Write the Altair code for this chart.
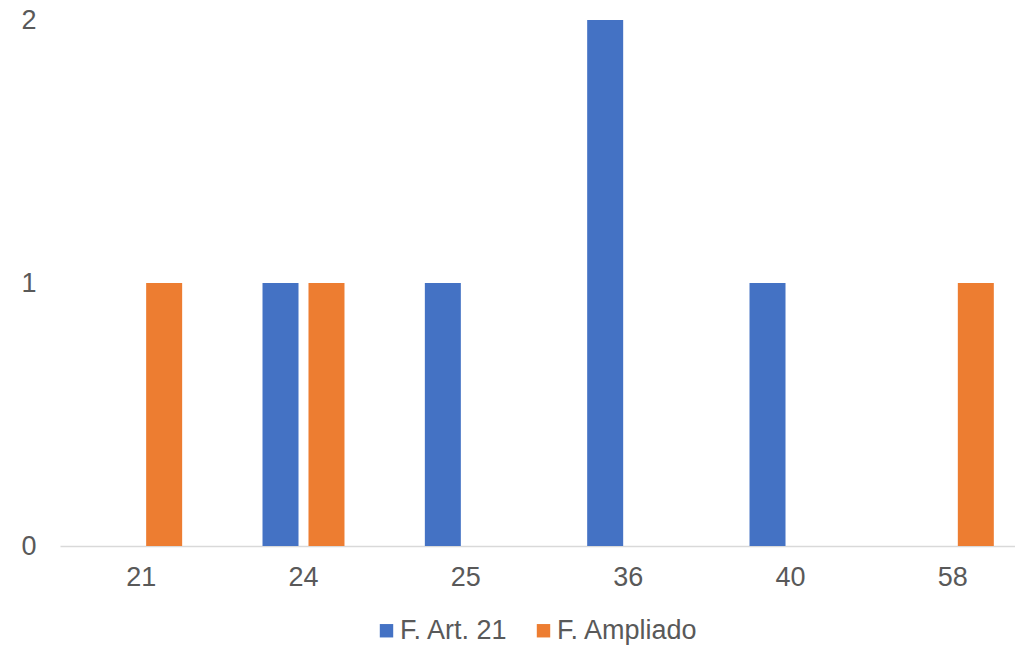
import altair as alt
import pandas as pd

categories = ["21", "24", "25", "36", "40", "58"]
series_names = ["F. Art. 21", "F. Ampliado"]
art21_values = [0, 1, 1, 2, 1, 0]
ampliado_values = [1, 1, 0, 0, 0, 1]
colors = ["#4472C4", "#ED7D31"]
y_ticks = [0, 1, 2]

rows = []
for c, a, b in zip(categories, art21_values, ampliado_values):
    rows.append({"cat": c, "serie": series_names[0], "valor": a})
    rows.append({"cat": c, "serie": series_names[1], "valor": b})
df = pd.DataFrame(rows)

FONT = "Arial"
TXT = "#595959"
FS = 27

chart = alt.Chart(df).mark_bar().encode(
    x=alt.X("cat:N", sort=categories,
            scale=alt.Scale(range=[0, 974], paddingInner=0.495, paddingOuter=0.2475),
            axis=alt.Axis(title=None, labelAngle=0, ticks=False, tickSize=0,
                          domainColor="#D9D9D9", domainWidth=1.5, grid=False,
                          labelFontSize=FS, labelColor=TXT, labelFont=FONT,
                          labelPadding=18)),
    xOffset=alt.XOffset("serie:N", sort=series_names,
                        scale=alt.Scale(domain=series_names, paddingInner=0.217, paddingOuter=0)),
    y=alt.Y("valor:Q", scale=alt.Scale(domain=[0, 2], nice=False),
            axis=alt.Axis(title=None, values=y_ticks, format=".0f", grid=False, domain=False,
                          ticks=False, tickSize=0, labelFontSize=FS, labelColor=TXT,
                          labelFont=FONT, labelPadding=24, labelOverlap=False)),
    color=alt.Color("serie:N", sort=series_names,
                    scale=alt.Scale(domain=series_names, range=colors),
                    legend=alt.Legend(title=None, orient="none", legendX=313, legendY=597,
                                      direction="horizontal", symbolType="square",
                                      symbolSize=180, symbolStrokeWidth=0,
                                      labelFontSize=FS, labelColor=TXT, labelFont=FONT,
                                      labelOffset=0, columnPadding=21, padding=0)),
).properties(
    width=955,
    height=526,
    autosize=alt.AutoSizeParams(type="none"),
    padding={"left": 52, "top": 12, "right": 0, "bottom": 100},
).configure(font=FONT).configure_view(stroke=None)

chart.save("out.html", embed_options={"renderer": "svg", "actions": False})
